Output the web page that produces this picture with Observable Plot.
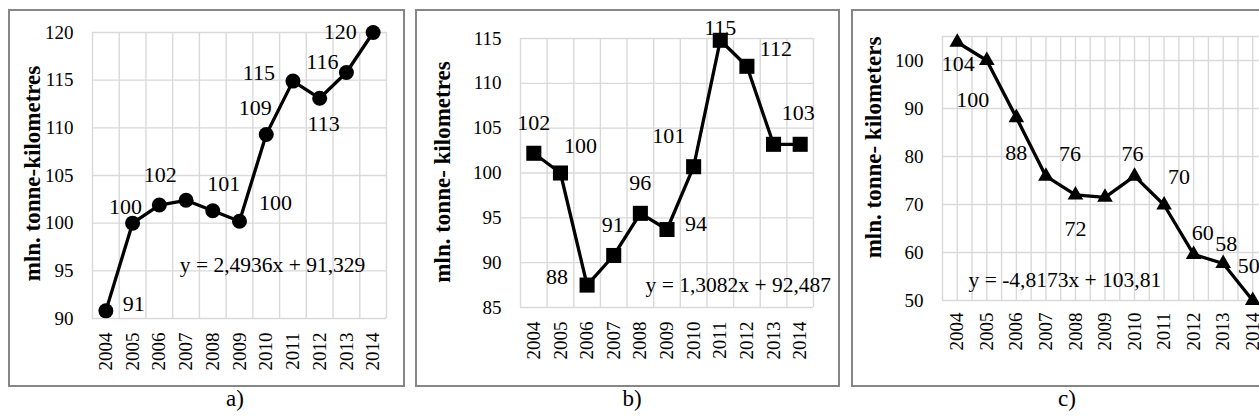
<!DOCTYPE html>
<html><head><meta charset="utf-8">
<script src="https://cdn.jsdelivr.net/npm/d3@7"></script>
<script src="https://cdn.jsdelivr.net/npm/@observablehq/plot@0.6"></script>
<style>
html,body{margin:0;padding:0;background:#fff;overflow:hidden;}
#root{position:relative;width:1259px;height:420px;overflow:hidden;font-family:"Liberation Serif","Times New Roman",serif;}
#root svg, #root svg text{font-family:"Liberation Serif","Times New Roman",serif !important;}
.box{position:absolute;border:2px solid #868686;box-sizing:border-box;}
.plotwrap{position:absolute;}
.cap{position:absolute;font-size:23px;line-height:1;transform:translate(-50%,-50%);white-space:nowrap;}
</style></head><body><div id="root"></div>
<script>
// ---- data ----
const years = [2004, 2005, 2006, 2007, 2008, 2009, 2010, 2011, 2012, 2013, 2014];

const valuesA = [90.8, 100.0, 101.9, 102.4, 101.3, 100.2, 109.3, 114.9, 113.1, 115.8, 120.0];
const labelsA = ["91", "100", "102", "", "101", "100", "109", "115", "113", "116", "120"];
const ticksA = [90, 95, 100, 105, 110, 115, 120];
const titleA = "mln. tonne-kilometres";
const eqA = "y = 2,4936x + 91,329";

const valuesB = [102.2, 100.0, 87.5, 90.8, 95.5, 93.7, 100.7, 114.8, 111.9, 103.2, 103.2];
const labelsB = ["102", "100", "88", "91", "96", "94", "101", "115", "112", "", "103"];
const ticksB = [85, 90, 95, 100, 105, 110, 115];
const titleB = "mln. tonne- kilometres";
const eqB = "y = 1,3082x + 92,487";

const valuesC = [103.8, 100.0, 88.1, 75.9, 72.0, 71.5, 75.9, 69.9, 59.6, 57.7, 50.0];
const labelsC = ["104", "100", "88", "76", "72", "", "76", "70", "60", "58", "50"];
const ticksC = [50, 60, 70, 80, 90, 100];
const titleC = "mln. tonne- kilometers";
const eqC = "y = -4,8173x + 103,81";

const captions = ["a)", "b)", "c)"];

// ---- label offsets (px) ----
const offA = [[28,-7],[-7,-16],[1,-30],[0,0],[11,-27],[36,-18],[-11,-27],[-34,-8],[4,26],[-24,-11],[-33,-1]];
const offB = [[0,-30],[20,-27],[-30,-8],[-1,-31],[0,-30],[29,-6],[-25,-31],[0,-12],[29,-17],[0,0],[-2,-31]];
const offC = [[1,22],[-14,39],[0,35],[24,-22],[0,34],[0,0],[-2,-22],[15,-28],[9,-21],[3,-20],[-4,-35]];

const root = document.getElementById("root");
const FONT = '"Liberation Serif","Times New Roman",serif';
const bounds = d3.range(2003.5, 2014.6, 1);

function panel(cfg) {
  const data = years.map((y, i) => ({year: y, value: cfg.values[i], label: cfg.labels[i], i}));
  const labelMarks = data.filter(d => d.label).map(d =>
    Plot.text([d], {x: "year", y: "value", text: "label", dx: cfg.off[d.i][0], dy: cfg.off[d.i][1],
      fontSize: 22, fontFamily: FONT, fill: "#000", textAnchor: "middle", lineAnchor: "middle"}));
  const gridStyle = {stroke: "#d9d9d9", strokeOpacity: 1, strokeWidth: 1.4};
  const chart = Plot.plot({
    width: cfg.w, height: cfg.h,
    marginLeft: cfg.m[0], marginTop: cfg.m[1], marginRight: cfg.m[2], marginBottom: cfg.m[3],
    style: {fontFamily: FONT, fontSize: "19px", background: "transparent", color: "#000", overflow: "visible"},
    x: {type: "linear", domain: [2003.5, 2014.5], label: null},
    y: {domain: cfg.domainY, label: null},
    marks: [
      Plot.gridY(cfg.gridY, gridStyle),
      Plot.gridX(cfg.gridX, gridStyle),
      Plot.axisX(years, {tickSize: 0, tickRotate: -90, tickPadding: cfg.xPad, tickFormat: d => String(d), fontSize: 19, fontFamily: FONT, fill: "#000", label: null}),
      Plot.axisY(cfg.ticks, {tickSize: 0, tickPadding: 19, fontSize: 19, fontFamily: FONT, fill: "#000", label: null}),
      Plot.line(data, {x: "year", y: "value", stroke: "#000", strokeWidth: 3.3}),
      Plot.dot(data, {x: "year", y: "value", symbol: cfg.symbol, r: cfg.r, fill: "#000", stroke: "none"}),
      ...labelMarks,
      Plot.text([cfg.title], {frameAnchor: "left", dx: cfg.titleDx, dy: cfg.titleDy, rotate: -90,
        fontWeight: "bold", fontSize: 23, fontFamily: FONT, fill: "#000", textAnchor: "middle", lineAnchor: "middle"}),
      Plot.text([cfg.eq], {frameAnchor: "top-left", dx: cfg.eqDx, dy: cfg.eqDy, textAnchor: cfg.eqAnchor,
        lineAnchor: "middle", fontSize: 21.5, fontFamily: FONT, fill: "#000"})
    ]
  });
  const box = document.createElement("div");
  box.className = "box";
  Object.assign(box.style, {left: cfg.left + "px", top: cfg.top + "px", width: cfg.w + "px", height: cfg.h + "px"});
  root.appendChild(box);
  const wrap = document.createElement("div");
  wrap.className = "plotwrap";
  Object.assign(wrap.style, {left: cfg.left + "px", top: cfg.top + "px", width: cfg.w + "px", height: cfg.h + "px"});
  wrap.appendChild(chart);
  root.appendChild(wrap);
}

panel({values: valuesA, labels: labelsA, off: offA, ticks: ticksA, gridY: ticksA, gridX: bounds,
  domainY: [90, 120], symbol: "circle", r: 7.5, title: titleA, titleDx: -60, titleDy: -2,
  eq: eqA, eqDx: 180, eqDy: 233, eqAnchor: "middle",
  left: 8, top: 9, w: 397, h: 378, m: [84, 23, 19, 69], xPad: 14});

panel({values: valuesB, labels: labelsB, off: offB, ticks: ticksB, gridY: ticksB, gridX: bounds,
  domainY: [85, 115], symbol: "square", r: 8.5, title: titleB, titleDx: -78, titleDy: -1,
  eq: eqB, eqDx: 125, eqDy: 247, eqAnchor: "start",
  left: 415, top: 9, w: 425, h: 378, m: [105, 29, 27, 80], xPad: 14});

panel({values: valuesC, labels: labelsC, off: offC, ticks: ticksC, gridY: ticksC.concat([105]), gridX: bounds.concat(years),
  domainY: [50, 105], symbol: "triangle", r: 5.8, title: titleC, titleDx: -69, titleDy: -21,
  eq: eqC, eqDx: 26, eqDy: 244, eqAnchor: "start",
  left: 851, top: 9, w: 439, h: 378, m: [91, 27, 23, 87], xPad: 12});

const capPos = [[235, 398], [632, 398], [1067, 398]];
captions.forEach((c, i) => {
  const d = document.createElement("div");
  d.className = "cap";
  d.textContent = c;
  d.style.left = capPos[i][0] + "px";
  d.style.top = capPos[i][1] + "px";
  root.appendChild(d);
});
</script>
</body></html>
